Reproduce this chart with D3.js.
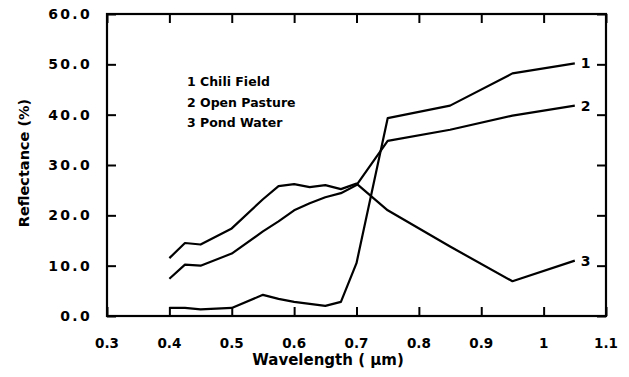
<!DOCTYPE html>
<html>
<head>
<meta charset="utf-8">
<script src="https://cdn.jsdelivr.net/npm/d3@7"></script>
<style>
  body { margin: 0; background: #fff; }
  svg text { font-family: "DejaVu Sans", sans-serif; font-weight: bold; fill: #000; }
</style>
</head>
<body>
<div id="chart"></div>
<script>
// wavelength samples (um)
const wavelength = [0.4, 0.425, 0.45, 0.5, 0.55, 0.575, 0.6, 0.625, 0.65, 0.675, 0.7, 0.75, 0.85, 0.95, 1.05];
const chiliField = [1.6, 1.6, 1.3, 1.6, 4.2, 3.4, 2.8, 2.4, 2.0, 2.8, 10.5, 39.3, 41.8, 48.2, 50.2];
const openPasture = [7.4, 10.2, 10.0, 12.4, 16.8, 18.8, 21.0, 22.4, 23.6, 24.4, 26.0, 34.8, 37.0, 39.8, 41.8];
const pondWater = [11.5, 14.5, 14.2, 17.4, 23.2, 25.8, 26.2, 25.6, 26.0, 25.2, 26.3, 21.0, 13.8, 6.9, 11.0];
const seriesLabels = ["1", "2", "3"];
const legendLines = ["1 Chili Field", "2 Open Pasture", "3 Pond Water"];
const xTicks = [0.3, 0.4, 0.5, 0.6, 0.7, 0.8, 0.9, 1, 1.1];
const yTicks = [0, 10, 20, 30, 40, 50, 60];

const width = 629, height = 377;
const margin = {top: 14, right: 23, bottom: 61, left: 107};

const svg = d3.select("#chart").append("svg")
  .attr("width", width)
  .attr("height", height);

const x = d3.scaleLinear([0.3, 1.1], [margin.left, width - margin.right]);
const y = d3.scaleLinear([0, 60], [height - margin.bottom, margin.top]);

const series = [chiliField, openPasture, pondWater];

// frame
svg.append("rect")
  .attr("x", x(0.3)).attr("y", y(60))
  .attr("width", x(1.1) - x(0.3)).attr("height", y(0) - y(60))
  .attr("fill", "none").attr("stroke", "#000").attr("stroke-width", 2.2);

// inner ticks on all four sides
const tickLen = 9;
svg.append("g").attr("transform", `translate(0,${y(0)})`)
  .call(d3.axisTop(x).tickValues(xTicks).tickSize(tickLen).tickFormat(""))
  .call(g => g.select(".domain").remove())
  .call(g => g.selectAll("line").attr("stroke-width", 2));
svg.append("g").attr("transform", `translate(0,${y(60)})`)
  .call(d3.axisBottom(x).tickValues(xTicks).tickSize(tickLen).tickFormat(""))
  .call(g => g.select(".domain").remove())
  .call(g => g.selectAll("line").attr("stroke-width", 2));
svg.append("g").attr("transform", `translate(${x(0.3)},0)`)
  .call(d3.axisRight(y).tickValues(yTicks).tickSize(tickLen).tickFormat(""))
  .call(g => g.select(".domain").remove())
  .call(g => g.selectAll("line").attr("stroke-width", 2));
svg.append("g").attr("transform", `translate(${x(1.1)},0)`)
  .call(d3.axisLeft(y).tickValues(yTicks).tickSize(tickLen).tickFormat(""))
  .call(g => g.select(".domain").remove())
  .call(g => g.selectAll("line").attr("stroke-width", 2));

// tick labels
svg.append("g").selectAll("text").data(xTicks).join("text")
  .attr("x", d => x(d)).attr("y", 348)
  .attr("text-anchor", "middle").attr("font-size", 13.5)
  .text(d => d === 1 ? "1" : d3.format(".1f")(d));
svg.append("g").selectAll("text").data(yTicks).join("text")
  .attr("x", 92).attr("y", d => y(d)).attr("dy", "0.36em")
  .attr("text-anchor", "end").attr("font-size", 14)
  .attr("letter-spacing", 2.3)
  .text(d => d3.format(".1f")(d));

// axis titles
svg.append("text")
  .attr("x", 328).attr("y", 365)
  .attr("text-anchor", "middle").attr("font-size", 15)
  .text("Wavelength ( \u00b5m)");
svg.append("text")
  .attr("transform", `translate(24,${(y(0) + y(60)) / 2 - 2}) rotate(-90)`)
  .attr("text-anchor", "middle").attr("dy", "0.35em").attr("font-size", 14.5)
  .text("Reflectance (%)");

// curves
const line = d3.line()
  .x((d, i) => x(wavelength[i]))
  .y(d => y(d));
svg.append("g").selectAll("path").data(series).join("path")
  .attr("d", line)
  .attr("fill", "none").attr("stroke", "#000")
  .attr("stroke-width", 2.2).attr("stroke-linejoin", "round");

// end labels
svg.append("g").selectAll("text").data(series).join("text")
  .attr("x", d => x(wavelength[wavelength.length - 1]) + 6)
  .attr("y", d => y(d[d.length - 1]))
  .attr("dy", "0.36em").attr("font-size", 14)
  .text((d, i) => seriesLabels[i]);

// legend
svg.append("g").selectAll("text").data(legendLines).join("text")
  .attr("x", 187).attr("y", (d, i) => 86 + i * 20.5)
  .attr("font-size", 12.5)
  .text(d => d);
</script>
</body>
</html>
